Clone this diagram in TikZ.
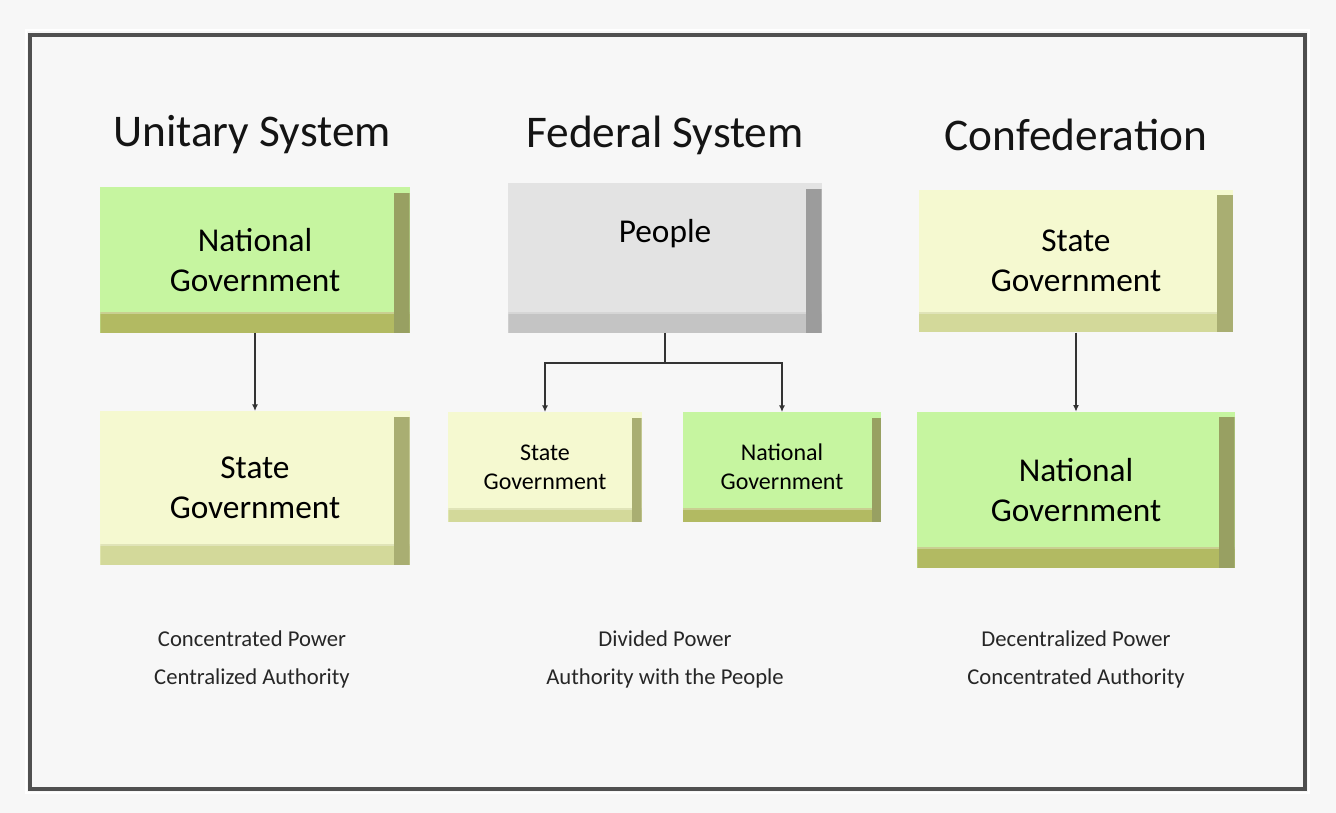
\documentclass[tikz,border=0pt]{standalone}
\usepackage{fontspec}
\setmainfont{Carlito}
\usepackage{tikz}
\usetikzlibrary{arrows.meta}

\definecolor{pagebg}{HTML}{F7F7F7}
\definecolor{framegray}{HTML}{505050}
\definecolor{greenface}{HTML}{C6F5A0}
\definecolor{greenbevel}{HTML}{B2BA62}
\definecolor{greenside}{HTML}{98A062}
\definecolor{yellowface}{HTML}{F5F9D0}
\definecolor{yellowbevel}{HTML}{D3D99A}
\definecolor{yellowside}{HTML}{A9AE72}
\definecolor{grayface}{HTML}{E3E3E3}
\definecolor{graybevel}{HTML}{C4C4C4}
\definecolor{grayside}{HTML}{9C9C9C}

\tikzset{
  govbox/.style n args={4}{fill=#1, text=black, align=center,
    path picture={
      \fill[#2] (path picture bounding box.south west) rectangle
        ([yshift=#4]path picture bounding box.south east);
      \fill[#2!70!white] ([yshift=#4]path picture bounding box.south west) rectangle
        ([yshift=#4+1.5pt]path picture bounding box.south east);
      \fill[#3] ([xshift=-#4+2pt]path picture bounding box.south east) rectangle
        ([yshift=-4pt]path picture bounding box.north east);
    }},
  greenbox/.style={govbox={greenface}{greenbevel}{greenside}{#1}},
  yellowbox/.style={govbox={yellowface}{yellowbevel}{yellowside}{#1}},
  graybox/.style={govbox={grayface}{graybevel}{grayside}{#1}},
  bigtext/.style={font=\fontsize{25}{30}\selectfont},
  smalltext/.style={font=\fontsize{18}{22}\selectfont},
  title/.style={font=\fontsize{34}{40}\selectfont, text=black!92},
  note/.style={font=\fontsize{17}{28.5}\selectfont, align=center, text=black!85},
  arr/.style={draw=black!80, line width=1.5pt, -{Latex[length=5pt,width=4.5pt]}},
}

\begin{document}
\begin{tikzpicture}[x=0.75pt, y=-0.75pt]
  \useasboundingbox (0,0) rectangle (1336,813);
  \fill[pagebg] (0,0) rectangle (1336,813);
  \draw[white, line width=2pt] (26,30) rectangle (1309,793);
  \draw[framegray, line width=3.5pt, fill=pagebg] (30,35) rectangle (1305,789);

  % titles
  \node[title] (unitary) at (252,135) {Unitary System};
  \node[title] (federal) at (665,135) {Federal System};
  \node[title] (confed) at (1076,135) {Confederation};

  % unitary
  \node[greenbox=14pt, bigtext, minimum width=232pt, minimum height=109pt] (unat) at (255,260) {National\\Government};
  \node[yellowbox=14pt, bigtext, minimum width=232pt, minimum height=115pt] (ustate) at (255,488) {State\\Government};
  \draw[arr] (unat) -- (ustate);

  % federal
  \node[graybox=14pt, bigtext, minimum width=235pt, minimum height=112pt] (people) at (665,258) {People\\[10pt]~};
  \node[yellowbox=9pt, smalltext, minimum width=145pt, minimum height=82pt] (fstate) at (545,467) {State\\Government};
  \node[greenbox=9pt, smalltext, minimum width=149pt, minimum height=82pt] (fnat) at (782,467) {National\\Government};
  \coordinate (fork) at (665,363);
  \draw[draw=black!80, line width=1.5pt] (people) -- (fork);
  \draw[arr] (fork) -| (fstate.north);
  \draw[arr] (fork) -| (fnat.north);

  % confederation
  \node[yellowbox=14pt, bigtext, minimum width=236pt, minimum height=107pt] (cstate) at (1076,261) {State\\Government};
  \node[greenbox=14pt, bigtext, minimum width=238pt, minimum height=117pt] (cnat) at (1076,490) {National\\Government};
  \draw[arr] (cstate) -- (cnat);

  % notes
  \node[note] (unote) at (252,659) {Concentrated Power\\Centralized Authority};
  \node[note] (fnote) at (665,659) {Divided Power\\Authority with the People};
  \node[note] (cnote) at (1076,659) {Decentralized Power\\Concentrated Authority};
\end{tikzpicture}
\end{document}
